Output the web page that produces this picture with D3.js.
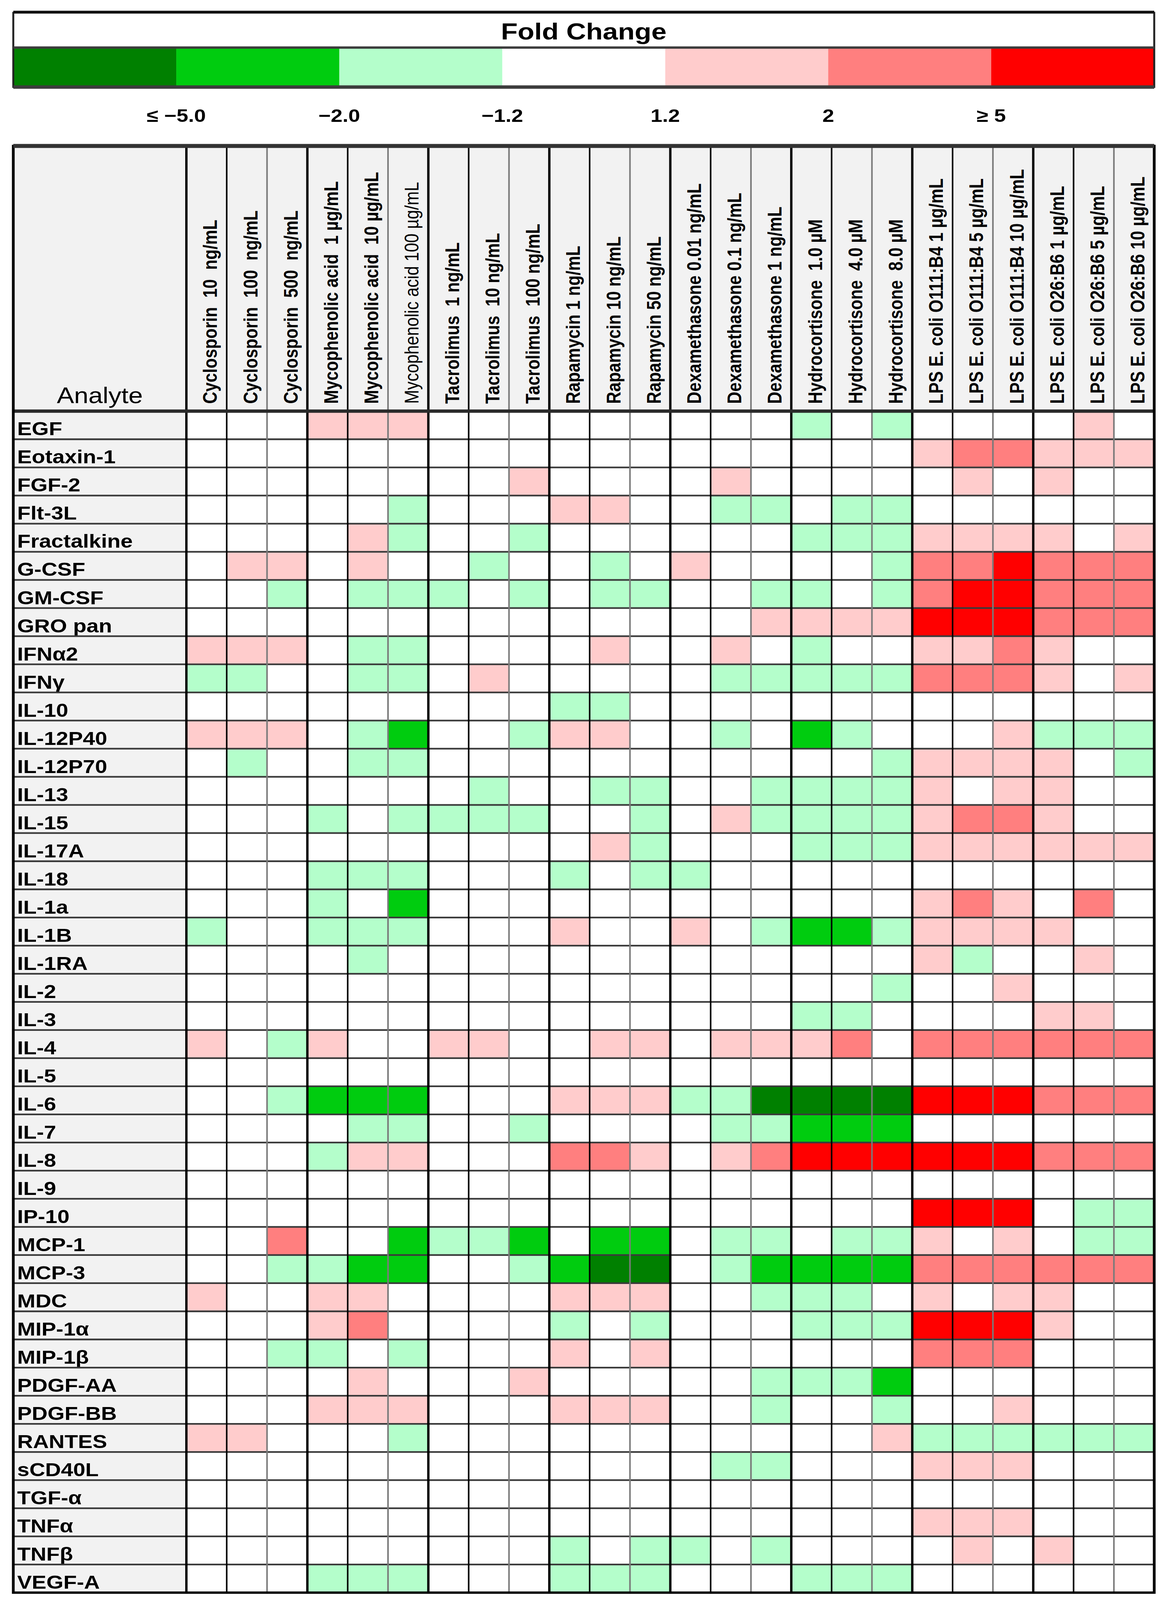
<!DOCTYPE html>
<html>
<head>
<meta charset="utf-8">
<script src="https://cdn.jsdelivr.net/npm/d3@7.9.0/dist/d3.min.js"></script>
<style>
  html, body { margin: 0; padding: 0; background: #fff; overflow: hidden; }
  svg { display: block; width: 100vw; height: 100vh; }
  text { font-family: "Liberation Sans", Arial, sans-serif; fill: #000; }
</style>
</head>
<body>
<svg id="chart"></svg>
<script>
// treatments (columns)
const treatments = [
  'Cyclosporin  10  ng/mL', 'Cyclosporin  100  ng/mL', 'Cyclosporin  500  ng/mL',
  'Mycophenolic acid  1 µg/mL', 'Mycophenolic acid  10 µg/mL', 'Mycophenolic acid 100 µg/mL',
  'Tacrolimus  1 ng/mL', 'Tacrolimus  10 ng/mL', 'Tacrolimus  100 ng/mL',
  'Rapamycin 1 ng/mL', 'Rapamycin 10 ng/mL', 'Rapamycin 50 ng/mL',
  'Dexamethasone 0.01 ng/mL', 'Dexamethasone 0.1 ng/mL', 'Dexamethasone 1 ng/mL',
  'Hydrocortisone  1.0 µM', 'Hydrocortisone  4.0 µM', 'Hydrocortisone  8.0 µM',
  'LPS E. coli O111:B4 1 µg/mL', 'LPS E. coli O111:B4 5 µg/mL', 'LPS E. coli O111:B4 10 µg/mL',
  'LPS E. coli O26:B6 1 µg/mL', 'LPS E. coli O26:B6 5 µg/mL', 'LPS E. coli O26:B6 10 µg/mL'
];

// analytes (rows)
const analytes = [
  'EGF', 'Eotaxin-1', 'FGF-2', 'Flt-3L', 'Fractalkine', 'G-CSF', 'GM-CSF', 'GRO pan',
  'IFNα2', 'IFNγ', 'IL-10', 'IL-12P40', 'IL-12P70', 'IL-13', 'IL-15', 'IL-17A', 'IL-18',
  'IL-1a', 'IL-1B', 'IL-1RA', 'IL-2', 'IL-3', 'IL-4', 'IL-5', 'IL-6', 'IL-7', 'IL-8',
  'IL-9', 'IP-10', 'MCP-1', 'MCP-3', 'MDC', 'MIP-1α', 'MIP-1β', 'PDGF-AA', 'PDGF-BB',
  'RANTES', 'sCD40L', 'TGF-α', 'TNFα', 'TNFβ', 'VEGF-A'
];

// fold-change bin per cell: -3 (≤ -5) ... 0 (no change) ... 3 (≥ 5)
const levels = [
  [0,0,0,1,1,1,0,0,0,0,0,0, 0,0,0,-1,0,-1,0,0,0,0,1,0],
  [0,0,0,0,0,0,0,0,0,0,0,0, 0,0,0,0,0,0,1,2,2,1,1,1],
  [0,0,0,0,0,0,0,0,1,0,0,0, 0,1,0,0,0,0,0,1,0,1,0,0],
  [0,0,0,0,0,-1,0,0,0,1,1,0, 0,-1,-1,0,-1,-1,0,0,0,0,0,0],
  [0,0,0,0,1,-1,0,0,-1,0,0,0, 0,0,0,-1,-1,-1,1,1,1,1,0,1],
  [0,1,1,0,1,0,0,-1,0,0,-1,0, 1,0,0,0,0,-1,2,2,3,2,2,2],
  [0,0,-1,0,-1,-1,-1,0,-1,0,-1,-1, 0,0,-1,-1,0,-1,2,3,3,2,2,2],
  [0,0,0,0,0,0,0,0,0,0,0,0, 0,0,1,1,1,1,3,3,3,2,2,2],
  [1,1,1,0,-1,-1,0,0,0,0,1,0, 0,1,0,-1,0,0,1,1,2,1,0,0],
  [-1,-1,0,0,-1,-1,0,1,0,0,0,0, 0,-1,-1,-1,-1,-1,2,2,2,1,0,1],
  [0,0,0,0,0,0,0,0,0,-1,-1,0, 0,0,0,0,0,0,0,0,0,0,0,0],
  [1,1,1,0,-1,-2,0,0,-1,1,1,0, 0,-1,0,-2,-1,0,0,0,1,-1,-1,-1],
  [0,-1,0,0,-1,-1,0,0,0,0,0,0, 0,0,0,0,0,-1,1,1,1,1,0,-1],
  [0,0,0,0,0,0,0,-1,0,0,-1,-1, 0,0,-1,-1,-1,-1,1,0,1,1,0,0],
  [0,0,0,-1,0,-1,-1,-1,-1,0,0,-1, 0,1,-1,-1,-1,-1,1,2,2,1,0,0],
  [0,0,0,0,0,0,0,0,0,0,1,-1, 0,0,0,-1,-1,-1,1,1,1,1,1,1],
  [0,0,0,-1,-1,-1,0,0,0,-1,0,-1, -1,0,0,0,0,0,0,0,0,0,0,0],
  [0,0,0,-1,0,-2,0,0,0,0,0,0, 0,0,0,0,0,0,1,2,1,0,2,0],
  [-1,0,0,-1,-1,-1,0,0,0,1,0,0, 1,0,-1,-2,-2,-1,1,1,1,1,0,0],
  [0,0,0,0,-1,0,0,0,0,0,0,0, 0,0,0,0,0,0,1,-1,0,0,1,0],
  [0,0,0,0,0,0,0,0,0,0,0,0, 0,0,0,0,0,-1,0,0,1,0,0,0],
  [0,0,0,0,0,0,0,0,0,0,0,0, 0,0,0,-1,-1,0,0,0,0,1,1,0],
  [1,0,-1,1,0,0,1,1,0,0,1,1, 0,1,1,1,2,0,2,2,2,2,2,2],
  [0,0,0,0,0,0,0,0,0,0,0,0, 0,0,0,0,0,0,0,0,0,0,0,0],
  [0,0,-1,-2,-2,-2,0,0,0,1,1,1, -1,-1,-3,-3,-3,-3,3,3,3,2,2,2],
  [0,0,0,0,-1,-1,0,0,-1,0,0,0, 0,-1,-1,-2,-2,-2,0,0,0,0,0,0],
  [0,0,0,-1,1,1,0,0,0,2,2,1, 0,1,2,3,3,3,3,3,3,2,2,2],
  [0,0,0,0,0,0,0,0,0,0,0,0, 0,0,0,0,0,0,0,0,0,0,0,0],
  [0,0,0,0,0,0,0,0,0,0,0,0, 0,0,0,0,0,0,3,3,3,0,-1,-1],
  [0,0,2,0,0,-2,-1,-1,-2,0,-2,-2, 0,-1,-1,0,-1,-1,1,0,1,0,-1,-1],
  [0,0,-1,-1,-2,-2,0,0,-1,-2,-3,-3, 0,-1,-2,-2,-2,-2,2,2,2,2,2,2],
  [1,0,0,1,1,0,0,0,0,1,1,1, 0,0,-1,-1,-1,0,1,0,1,1,0,0],
  [0,0,0,1,2,0,0,0,0,-1,0,-1, 0,0,0,-1,-1,-1,3,3,3,1,0,0],
  [0,0,-1,-1,0,-1,0,0,0,1,0,1, 0,0,0,0,0,0,2,2,2,0,0,0],
  [0,0,0,0,1,0,0,0,1,0,0,0, 0,0,-1,-1,-1,-2,0,0,0,0,0,0],
  [0,0,0,1,1,1,0,0,0,1,1,1, 0,0,-1,0,0,-1,0,0,1,0,0,0],
  [1,1,0,0,0,-1,0,0,0,0,0,0, 0,0,0,0,0,1,-1,-1,-1,-1,-1,-1],
  [0,0,0,0,0,0,0,0,0,0,0,0, 0,-1,-1,0,0,0,1,1,1,0,0,0],
  [0,0,0,0,0,0,0,0,0,0,0,0, 0,0,0,0,0,0,0,0,0,0,0,0],
  [0,0,0,0,0,0,0,0,0,0,0,0, 0,0,0,0,0,0,1,1,1,0,0,0],
  [0,0,0,0,0,0,0,0,0,-1,0,-1, -1,0,-1,0,0,0,0,1,0,1,0,0],
  [0,0,0,-1,-1,-1,0,0,0,-1,-1,-1, 0,0,0,-1,-1,-1,0,0,0,0,0,0]
];

// legend bins, colours and boundary labels
const legendBins = [-3, -2, -1, 0, 1, 2, 3];
const legendColors = ['#008000', '#00CC0F', '#B4FECB', '#FFFFFF', '#FFCCCC', '#FF7F7F', '#FF0000'];
const legendTicks = ['≤ −5.0', '−2.0', '−1.2', '1.2', '2', '≥ 5'];

const W = 2979, H = 4779;
// drawn in a fixed 2979×4779 coordinate system, stretched to whatever the viewport is
const svg = d3.select('#chart')
  .attr('viewBox', `0 0 ${W} ${H}`)
  .attr('preserveAspectRatio', 'none');
svg.append('rect').attr('width', W).attr('height', H).attr('fill', '#fff');

const color = d3.scaleOrdinal().domain(legendBins).range(legendColors);

// ---------- legend ----------
const lg = { x0: 34, x1: 2954, top: 38, mid: 142, bot: 260 };
const lx = d3.scaleBand().domain(legendBins).range([lg.x0, lg.x1]);

svg.append('rect').attr('x', lg.x0).attr('y', lg.top).attr('width', lg.x1 - lg.x0).attr('height', lg.mid - lg.top)
  .attr('fill', '#fff');
svg.append('text').attr('x', (lg.x0 + lg.x1) / 2).attr('y', 118).attr('text-anchor', 'middle')
  .attr('font-size', 70).attr('font-weight', 'bold').text('Fold Change');

svg.selectAll('rect.seg').data(legendBins).join('rect').attr('class', 'seg')
  .attr('x', d => lx(d)).attr('y', lg.mid).attr('width', lx.bandwidth() + 0.5).attr('height', lg.bot - lg.mid)
  .attr('fill', d => color(d));

// legend borders
svg.append('rect').attr('x', lg.x0).attr('y', lg.top).attr('width', lg.x1 - lg.x0).attr('height', lg.bot - lg.top)
  .attr('fill', 'none').attr('stroke', '#222').attr('stroke-width', 5);
svg.append('line').attr('x1', lg.x0).attr('x2', lg.x1).attr('y1', lg.top - 2).attr('y2', lg.top - 2)
  .attr('stroke', '#111').attr('stroke-width', 8);
svg.append('line').attr('x1', lg.x0).attr('x2', lg.x1).attr('y1', lg.mid).attr('y2', lg.mid)
  .attr('stroke', '#3c3c3c').attr('stroke-width', 7);
svg.append('line').attr('x1', lg.x0).attr('x2', lg.x1).attr('y1', lg.bot).attr('y2', lg.bot)
  .attr('stroke', '#3c3c3c').attr('stroke-width', 10);

svg.selectAll('text.tick').data(legendTicks).join('text').attr('class', 'tick')
  .attr('x', (d, i) => lx(legendBins[i]) + lx.bandwidth())
  .attr('y', 364).attr('text-anchor', 'middle')
  .attr('font-size', 54).attr('font-weight', 'bold')
  .text(d => d);

// ---------- table ----------
const tb = { x0: 34, xl: 477, x1: 2954, top: 436, head: 1228, bot: 4757 };
const x = d3.scaleBand().domain(d3.range(treatments.length)).range([tb.xl, tb.x1]);
const y = d3.scaleBand().domain(analytes).range([tb.head, tb.bot]);

// header + label column background
svg.append('rect').attr('x', tb.x0).attr('y', tb.top).attr('width', tb.x1 - tb.x0).attr('height', tb.head - tb.top)
  .attr('fill', '#F2F2F2');
svg.append('rect').attr('x', tb.x0).attr('y', tb.head).attr('width', tb.xl - tb.x0).attr('height', tb.bot - tb.head)
  .attr('fill', '#F2F2F2');

// cells
const cells = [];
levels.forEach((row, r) => row.forEach((v, c) => cells.push({ r, c, v })));
svg.append('g').selectAll('rect').data(cells).join('rect')
  .attr('x', d => x(d.c)).attr('y', d => y(analytes[d.r]))
  .attr('width', x.bandwidth()).attr('height', y.bandwidth())
  .attr('fill', d => color(d.v));

// row labels
svg.append('g').selectAll('text').data(analytes).join('text')
  .attr('x', tb.x0 + 10).attr('y', d => y(d) + y.bandwidth() * 0.86)
  .attr('font-size', 56).attr('font-weight', 'bold')
  .text(d => d);

// column headers (rotated)
svg.append('g').selectAll('text').data(treatments).join('text')
  .attr('transform', (d, i) => `translate(${x(i) + x.bandwidth() * 0.76},${tb.head - 22}) rotate(-90)`)
  .attr('font-size', 50).attr('font-weight', (d, i) => i === 5 ? 'normal' : 'bold')
  .attr('xml:space', 'preserve').style('white-space', 'pre')
  .text(d => d);

svg.append('text').attr('x', (tb.x0 + tb.xl) / 2).attr('y', tb.head - 24).attr('text-anchor', 'middle')
  .attr('font-size', 66).text('Analyte');

// horizontal grid lines
svg.append('g').selectAll('line').data(analytes.slice(1)).join('line')
  .attr('x1', tb.x0).attr('x2', tb.x1).attr('y1', d => y(d)).attr('y2', d => y(d))
  .attr('stroke', '#3a3a3a').attr('stroke-width', 5);

// vertical grid lines: group borders every 3 columns are heavier, 2nd inner line grey
const vb = d3.range(1, treatments.length);
svg.append('g').selectAll('line').data(vb).join('line')
  .attr('x1', d => x(d)).attr('x2', d => x(d)).attr('y1', tb.top).attr('y2', tb.bot)
  .attr('stroke', d => d % 3 === 2 ? '#7a7a7a' : '#000')
  .attr('stroke-width', d => d % 3 === 0 ? 6 : 4);

svg.append('line').attr('x1', tb.xl).attr('x2', tb.xl).attr('y1', tb.top).attr('y2', tb.bot)
  .attr('stroke', '#000').attr('stroke-width', 6);
svg.append('line').attr('x1', tb.x0).attr('x2', tb.x1).attr('y1', tb.head).attr('y2', tb.head)
  .attr('stroke', '#2a2a2a').attr('stroke-width', 10);
svg.append('rect').attr('x', tb.x0).attr('y', tb.top).attr('width', tb.x1 - tb.x0).attr('height', tb.bot - tb.top)
  .attr('fill', 'none').attr('stroke', '#000').attr('stroke-width', 7);
svg.append('line').attr('x1', tb.x0).attr('x2', tb.x1).attr('y1', tb.top).attr('y2', tb.top)
  .attr('stroke', '#333').attr('stroke-width', 12);
</script>
</body>
</html>
